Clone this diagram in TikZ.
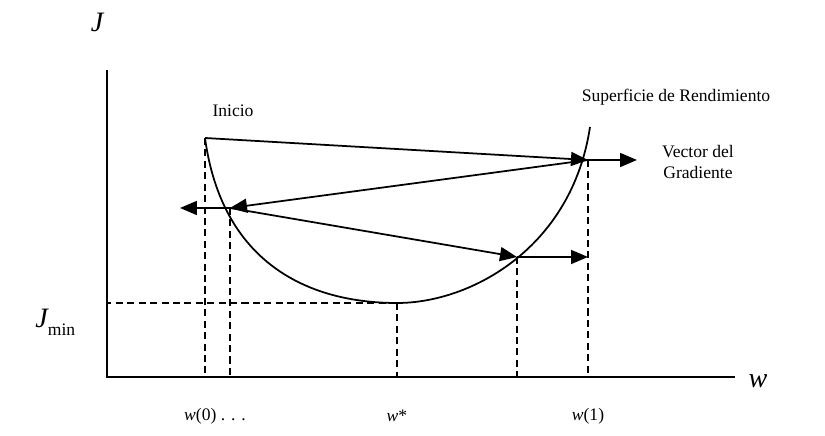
\documentclass[tikz,border=0pt]{standalone}
\usepackage{fontspec}
\setmainfont{Liberation Serif}
\usetikzlibrary{arrows.meta}

\begin{document}
\begin{tikzpicture}[line width=1pt,
  grad/.style={-{Triangle[length=0.34cm,width=0.28cm]}},
  guide/.style={dash pattern=on 4pt off 2.5pt},
  big/.style={font=\fontsize{16}{16}\selectfont\itshape},
  txt/.style={font=\fontsize{10}{12}\selectfont,align=center}]
\useasboundingbox (-2.14,-1.18) rectangle (14.36,7.54);
% axes
\coordinate (O) at (0,0);
\coordinate (ytop) at (0,6.14);
\coordinate (xend) at (12.56,0);
\draw (ytop) -- (O) -- (xend);
% points on the surface
\coordinate (S) at (1.96,4.78);
\coordinate (P1) at (9.62,4.34);
\coordinate (P2) at (2.46,3.38);
\coordinate (P3) at (8.2,2.4);
\coordinate (M) at (5.8,1.48);
\coordinate (T) at (9.66,5.0);
\coordinate (G1) at (10.6,4.34);
\coordinate (G2) at (1.46,3.38);
\coordinate (G3) at (9.62,2.4);
\draw (S) .. controls (2.3,2.3) and (4.0,1.48) .. (M)
          .. controls (7.3,1.48) and (9.3,2.6) .. (T);
% steps
\draw[grad] (S) -- (P1);
\draw[grad] (P1) -- (P2);
\draw[grad] (P2) -- (P3);
% gradient vectors
\draw[grad] (P1) -- (G1);
\draw[grad] (P2) -- (G2);
\draw[grad] (P3) -- (G3);
% guides
\draw[guide] (S) -- (S |- O);
\draw[guide] (P2) -- (P2 |- O);
\draw[guide] (M) -- (M |- O);
\draw[guide] (P3) -- (P3 |- O);
\draw[guide] (P1) -- (P1 |- O);
\draw[guide] (M) -- (M -| O);
% labels
\node[big] (jlab) at (-0.2,7.1) {J};
\node[big] (wlab) at (13.02,-0.08) {w};
\node[anchor=east] (jmin) at (-0.5,1.1) {\fontsize{16}{16}\selectfont\itshape J\raisebox{-0.6ex}{\fontsize{10}{10}\selectfont\upshape min}};
\node[txt] (w0) at (2.16,-0.78) {\textit{w}(0) . . .};
\node[txt] (wst) at (5.8,-0.78) {\textit{w}*};
\node[txt] (w1) at (9.62,-0.78) {\textit{w}(1)};
\node[txt] (inicio) at (2.52,5.32) {Inicio};
\node[txt] (sup) at (11.38,5.6) {Superficie de Rendimiento};
\node[txt] (vec) at (11.82,4.3) {Vector del\\Gradiente};
\end{tikzpicture}
\end{document}
